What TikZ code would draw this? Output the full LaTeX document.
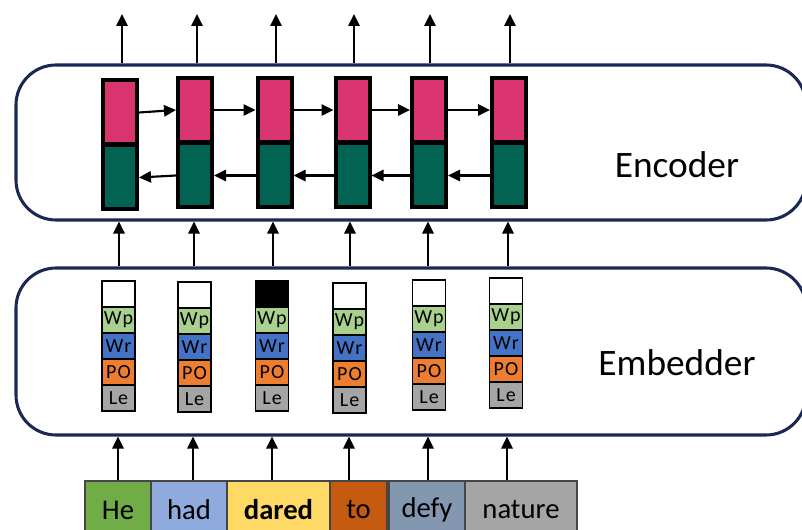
\documentclass[tikz,border=0pt]{standalone}
\usepackage{fontspec}
\setmainfont{Carlito}
\usetikzlibrary{arrows.meta}
\definecolor{navy}{RGB}{28,40,84}
\definecolor{encred}{RGB}{217,51,112}
\definecolor{encgreen}{RGB}{3,99,82}
\definecolor{cWp}{RGB}{169,209,142}
\definecolor{cWr}{RGB}{68,114,196}
\definecolor{cPO}{RGB}{237,125,49}
\definecolor{cLe}{RGB}{165,165,165}
\definecolor{wHe}{RGB}{112,173,71}
\definecolor{whad}{RGB}{143,170,220}
\definecolor{wdared}{RGB}{255,217,102}
\definecolor{wto}{RGB}{197,90,17}
\definecolor{wdefy}{RGB}{132,151,176}
\definecolor{wnature}{RGB}{165,165,165}
\definecolor{wordline}{RGB}{70,70,70}
\newcommand{\spacedpair}[2]{#1\kern0.8pt#2}
\begin{document}
\begin{tikzpicture}[x=0.75pt,y=-0.75pt,
  frame/.style={draw=navy, line width=2.3pt, rounded corners=30pt, inner sep=0pt},
  arr/.style={-{Triangle[length=9pt,width=8.5pt]}, line width=1.6pt, draw=black},
  rcell/.style={draw=black, line width=3pt, fill=encred, minimum width=25.5pt, minimum height=48pt, inner sep=0pt},
  gcell/.style={draw=black, line width=3pt, fill=encgreen, minimum width=25.5pt, minimum height=48pt, inner sep=0pt},
  ecell/.style={draw=black, line width=1.1pt, minimum width=25pt, minimum height=19.5pt, inner sep=0pt, font=\fontsize{15}{15}\selectfont},
  wordbox/.style={draw=wordline, line width=0.8pt, minimum height=43.5pt, inner sep=0pt, font=\fontsize{21.5}{21.5}\selectfont},
  lbl/.style={inner sep=0pt, font=\fontsize{28}{28}\selectfont}
]
\useasboundingbox (0,0) rectangle (802,530);
\clip (0,0) rectangle (802,530);

% frames
\node[frame, minimum width=592.5pt, minimum height=116.25pt] (enc) at (411,142.5) {};
\node[frame, minimum width=592.5pt, minimum height=125.25pt] (emb) at (411,351.5) {};
\node[lbl] (enclbl) at (677,165) {Encoder};
\node[lbl] (emblbl) at (677,363) {Embedder};

% encoder cells
\foreach \i/\x/\r/\g in {1/120/112.5/177.5, 2/195/110/175.5, 3/274.5/110/175.5, 4/352.5/110/175.5, 5/429/110/175.5, 6/509/110/175.5}{
  \node[rcell] (r\i) at (\x,\r) {};
  \node[gcell] (g\i) at (\x,\g) {};
}
\foreach \i/\j in {1/2,2/3,3/4,4/5,5/6}{
  \draw[arr] (r\i.east) -- (r\j.west);
  \draw[arr] (g\j.west) -- (g\i.east);
}

% output arrows
\foreach \i/\x in {1/122,2/197,3/276,4/354,5/430,6/510}{
  \coordinate (out\i) at (\x,14);
  \draw[arr] (enc.north -| out\i) -- (out\i);
}

% embedder to encoder arrows
\foreach \i/\x in {1/119,2/194,3/273,4/350,5/428,6/508}{
  \coordinate (m\i) at (\x,0);
  \draw[arr] (emb.north -| m\i) -- (enc.south -| m\i);
}

% embedder stacks
\foreach \i/\x/\t/\topfill in {1/118.5/281/white, 2/194.5/282/white, 3/272/281/black, 4/349.5/283/white, 5/429/280/white, 6/506/278/white}{
  \node[ecell, fill=\topfill] (e\i-0) at (\x,\t+13) {};
  \node[ecell, fill=cWp] (e\i-1) at (\x,\t+39) {\spacedpair{W}{p}};
  \node[ecell, fill=cWr] (e\i-2) at (\x,\t+65) {\spacedpair{W}{r}};
  \node[ecell, fill=cPO] (e\i-3) at (\x,\t+91) {\spacedpair{P}{O}};
  \node[ecell, fill=cLe] (e\i-4) at (\x,\t+117) {\spacedpair{L}{e}};
}

% words
\node[wordbox, fill=wHe, minimum width=49.5pt] (w1) at (118,510) {He};
\node[wordbox, fill=whad, minimum width=57pt] (w2) at (189,510) {had};
\node[wordbox, fill=wdared, minimum width=77.25pt] (w3) at (278.5,510) {\textbf{dared}};
\node[wordbox, fill=wto, minimum width=42.75pt] (w4) at (358.5,510) {to};
\node[wordbox, fill=wdefy, minimum width=57pt] (w5) at (427,510) {defy};
\node[wordbox, fill=wnature, minimum width=84pt] (w6) at (521,510) {nature};

\foreach \i/\x in {1/118,2/193,3/272,4/349,5/428,6/507}{
  \coordinate (a\i) at (\x,0);
  \draw[arr] (w\i.north -| a\i) -- (emb.south -| a\i);
}
\end{tikzpicture}
\end{document}
